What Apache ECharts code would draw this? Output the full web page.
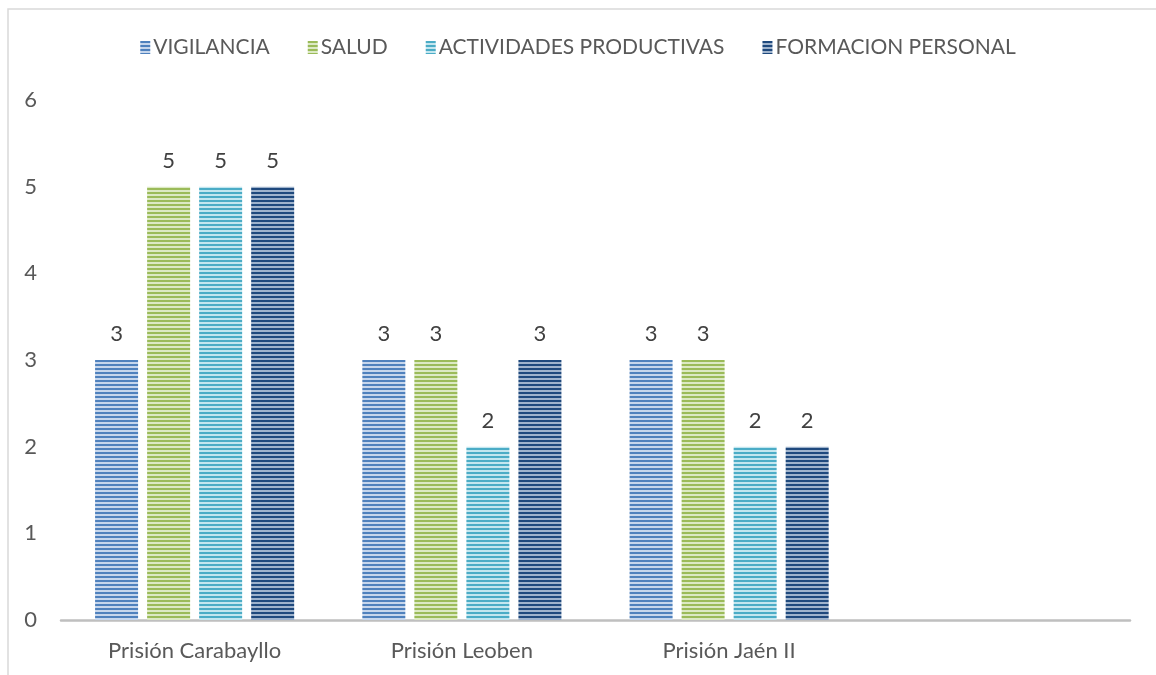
<!DOCTYPE html>
<html>
<head>
<meta charset="utf-8">
<script src="https://cdn.jsdelivr.net/npm/echarts@6/dist/echarts.min.js"></script>
<style>
  html, body { margin: 0; padding: 0; background: #fff; }
  #chart { width: 1156px; height: 675px; }
</style>
</head>
<body>
<div id="chart"></div>
<script>
// datos del gráfico
const prisiones = ['Prisión Carabayllo', 'Prisión Leoben', 'Prisión Jaén II', ''];
const seriesNames = ['VIGILANCIA', 'SALUD', 'ACTIVIDADES PRODUCTIVAS', 'FORMACION PERSONAL'];
const vigilancia = [3, 3, 3, null];
const salud = [5, 3, 3, null];
const actividades = [5, 2, 2, null];
const formacion = [5, 3, 2, null];
const yTicks = [0, 1, 2, 3, 4, 5, 6];

const baseColors = ['#4f81bd', '#9bbb59', '#4bacc6', '#1f497d'];
const lightColors = ['#c6d6ec', '#dce9c4', '#c3e6ef', '#9fb3cc'];

// trama de rayas horizontales
function stripes(dark, light) {
  const c = document.createElement('canvas');
  c.width = 4;
  c.height = 4;
  const ctx = c.getContext('2d');
  ctx.fillStyle = light;
  ctx.fillRect(0, 0, 4, 4);
  ctx.fillStyle = dark;
  ctx.fillRect(0, 0, 4, 2);
  return { image: c, repeat: 'repeat' };
}

const allData = [vigilancia, salud, actividades, formacion];
const fontFam = 'Lato, "Open Sans", sans-serif';

const chart = echarts.init(document.getElementById('chart'));
chart.setOption({
  animation: false,
  textStyle: { fontFamily: fontFam },
  graphic: [{
    type: 'rect',
    shape: { x: 8, y: 9, width: 1160, height: 680 },
    style: { fill: 'none', stroke: '#d9d9d9', lineWidth: 1.5 },
    silent: true
  }],
  legend: {
    top: 32,
    left: 'center',
    itemWidth: 10,
    itemHeight: 13,
    itemGap: 38,
    icon: 'rect',
    textStyle: { fontSize: 21, color: '#595959', fontFamily: fontFam, padding: [0, 0, 0, -2] }
  },
  grid: { left: 61, right: 26, top: 100, bottom: 55 },
  xAxis: {
    type: 'category',
    data: prisiones,
    axisLine: { lineStyle: { color: '#bfbfbf', width: 2.5 } },
    axisTick: { show: false },
    axisLabel: { color: '#595959', fontSize: 22, margin: 20 }
  },
  yAxis: {
    type: 'value',
    min: yTicks[0],
    max: yTicks[yTicks.length - 1],
    interval: 1,
    splitLine: { show: false },
    axisLine: { show: false },
    axisTick: { show: false },
    axisLabel: { color: '#595959', fontSize: 22, margin: 24, align: 'right' }
  },
  series: seriesNames.map((name, i) => ({
    name: name,
    type: 'bar',
    data: allData[i],
    barWidth: 43,
    barGap: '21%',
    itemStyle: {
      color: stripes(baseColors[i], lightColors[i]),
      borderWidth: 0
    },
    label: {
      show: true,
      position: 'top',
      distance: 15,
      color: '#404040',
      fontSize: 22,
      fontFamily: fontFam
    }
  }))
});
</script>
</body>
</html>
